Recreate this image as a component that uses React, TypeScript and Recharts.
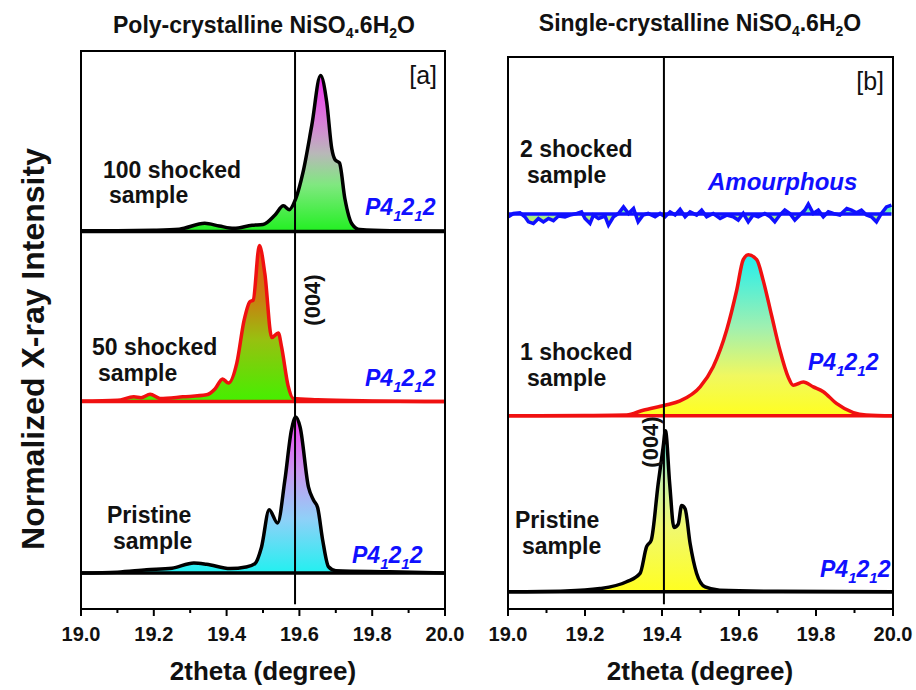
import { Area, ComposedChart, ReferenceArea, ReferenceLine, XAxis, YAxis } from "recharts";

type Pt = [number, number];

// 2theta ticks, shared by both panels
const xTicks = [19.0, 19.1, 19.2, 19.3, 19.4, 19.5, 19.6, 19.7, 19.8, 19.9, 20.0];

// panel [a] poly-crystalline, normalized intensity
const poly100: Pt[] = [
    [19.0, 0.005], [19.1, 0.005], [19.2, 0.008], [19.27, 0.015], [19.34, 0.053], [19.38, 0.035],
    [19.42, 0.02], [19.47, 0.04], [19.5, 0.045], [19.533, 0.106], [19.556, 0.165], [19.572, 0.14],
    [19.59, 0.21], [19.61, 0.38], [19.634, 0.68], [19.658, 1.0], [19.675, 0.83], [19.689, 0.53],
    [19.698, 0.46], [19.71, 0.44], [19.725, 0.21], [19.744, 0.05], [19.766, 0.012], [19.85, 0.005], [20.0, 0.003],
];
const poly50: Pt[] = [
    [19.0, 0.003], [19.1, 0.008], [19.145, 0.03], [19.165, 0.025], [19.19, 0.047], [19.217, 0.02],
    [19.28, 0.03], [19.345, 0.043], [19.368, 0.08], [19.389, 0.145], [19.405, 0.118], [19.428, 0.246],
    [19.448, 0.52], [19.464, 0.64], [19.473, 0.65], [19.49, 1.0], [19.505, 0.82], [19.524, 0.41],
    [19.542, 0.44], [19.551, 0.35], [19.569, 0.1], [19.583, 0.02], [19.65, 0.012], [19.8, 0.004], [20.0, 0.0],
];
const polyPristine: Pt[] = [
    [19.0, 0.0], [19.1, 0.005], [19.18, 0.02], [19.25, 0.03], [19.31, 0.064], [19.345, 0.056],
    [19.41, 0.028], [19.453, 0.038], [19.478, 0.06], [19.496, 0.167], [19.517, 0.405], [19.54, 0.32],
    [19.56, 0.594], [19.578, 0.915], [19.59, 1.0], [19.602, 0.935], [19.625, 0.55], [19.639, 0.466],
    [19.65, 0.42], [19.664, 0.21], [19.68, 0.04], [19.7, 0.015], [19.85, 0.008], [20.0, 0.0],
];

// panel [b] single-crystalline
const single2: Pt[] = [
    [19.001, -0.017], [19.014, 0.004], [19.031, 0.008], [19.044, -0.017], [19.053, -0.048], [19.066, -0.058],
    [19.079, -0.027], [19.092, -0.048], [19.105, -0.027], [19.118, -0.041], [19.131, -0.012], [19.148, -0.017],
    [19.161, -0.006], [19.179, 0.004], [19.191, 0.014], [19.2, -0.027], [19.213, -0.058], [19.222, -0.006],
    [19.235, -0.027], [19.252, -0.012], [19.261, -0.068], [19.274, -0.017], [19.287, 0.004], [19.3, 0.045],
    [19.313, 0.004], [19.326, 0.035], [19.338, -0.048], [19.351, -0.006], [19.364, 0.004], [19.382, -0.017],
    [19.395, 0.004], [19.408, -0.017], [19.421, 0.014], [19.434, -0.006], [19.447, 0.029], [19.46, -0.017],
    [19.473, 0.014], [19.49, -0.006], [19.503, 0.025], [19.516, -0.017], [19.533, 0.004], [19.551, -0.027],
    [19.568, -0.006], [19.585, -0.017], [19.598, -0.037], [19.611, 0.004], [19.624, -0.048], [19.637, -0.006],
    [19.65, -0.017], [19.667, 0.004], [19.681, -0.017], [19.693, -0.048], [19.706, -0.006], [19.719, 0.025],
    [19.732, 0.004], [19.745, -0.037], [19.758, -0.006], [19.771, 0.025], [19.78, 0.062], [19.793, 0.004],
    [19.806, 0.025], [19.819, -0.017], [19.832, 0.014], [19.845, 0.004], [19.862, -0.006], [19.88, 0.035],
    [19.892, 0.025], [19.905, 0.008], [19.918, 0.025], [19.931, -0.006], [19.944, -0.017], [19.957, -0.048],
    [19.97, 0.004], [19.983, 0.045], [19.996, 0.056],
];
const single1: Pt[] = [
    [19.0, 0.0], [19.2, 0.002], [19.308, 0.005], [19.351, 0.035], [19.408, 0.066], [19.447, 0.093],
    [19.499, 0.18], [19.533, 0.305], [19.568, 0.533], [19.594, 0.78], [19.611, 0.97], [19.624, 1.0],
    [19.646, 0.97], [19.663, 0.84], [19.685, 0.62], [19.706, 0.41], [19.728, 0.24], [19.741, 0.19],
    [19.767, 0.21], [19.793, 0.18], [19.819, 0.15], [19.853, 0.077], [19.897, 0.02], [19.93, 0.005], [20.0, 0.0],
];
const singlePristine: Pt[] = [
    [19.0, 0.0], [19.15, 0.005], [19.239, 0.02], [19.308, 0.062], [19.343, 0.114], [19.36, 0.28],
    [19.372, 0.32], [19.39, 0.67], [19.403, 0.9], [19.409, 1.0], [19.42, 0.67], [19.431, 0.4],
    [19.442, 0.42], [19.451, 0.536], [19.46, 0.516], [19.473, 0.3], [19.49, 0.114], [19.512, 0.03],
    [19.55, 0.01], [19.7, 0.003], [20.0, 0.0],
];

const peakA = 19.588; // (004) line, panel a
const peakB = 19.405; // (004) line, panel b

const toRange = (pts: Pt[], offset: number) =>
    pts.map(([x, y]) => ({ x, v: [offset, offset + y] }));

const BLUE = "#1010ff";
const FONT = "Liberation Sans, Arial, sans-serif";

function AxisTick({ x, y, payload }: any) {
    const major = Math.round(payload.value * 10) % 2 === 0;
    return (
        <g>
            <line x1={x} x2={x} y1={y} y2={y + (major ? 7 : 4)} stroke="#000" strokeWidth={2} />
            {major && (
                <text x={x} y={y + 32} textAnchor="middle" fontSize={20} fontWeight="bold" fill="#111" fontFamily={FONT}>
                    {payload.value.toFixed(1)}
                </text>
            )}
        </g>
    );
}

function Grad({ id, stops }: { id: string; stops: [number, string][] }) {
    return (
        <linearGradient id={id} x1="0" y1="0" x2="0" y2="1">
            {stops.map(([o, c]) => (
                <stop key={o} offset={o} stopColor={c} />
            ))}
        </linearGradient>
    );
}

function SpaceGroup() {
    return (
        <tspan>
            P4<tspan dy={6} fontSize={15}>1</tspan>
            <tspan dy={-6}>2</tspan>
            <tspan dy={6} fontSize={15}>1</tspan>
            <tspan dy={-6}>2</tspan>
        </tspan>
    );
}

function Overlay() {
    const lbl = { fontSize: 23, fontWeight: "bold" as const, fill: "#111" };
    const sg = { fontSize: 23, fontWeight: "bold" as const, fontStyle: "italic" as const, fill: BLUE };
    return (
        <svg width={916} height={690} style={{ position: "absolute", left: 0, top: 0, pointerEvents: "none" }}
            fontFamily={FONT}>
            <text x={264} y={33} textAnchor="middle" fontSize={23} fontWeight="bold" fill="#111">
                Poly-crystalline NiSO<tspan dy={5} fontSize={14}>4</tspan><tspan dy={-5}>.6H</tspan>
                <tspan dy={5} fontSize={14}>2</tspan><tspan dy={-5}>O</tspan>
            </text>
            <text x={700} y={31} textAnchor="middle" fontSize={23} fontWeight="bold" fill="#111">
                Single-crystalline NiSO<tspan dy={5} fontSize={14}>4</tspan><tspan dy={-5}>.6H</tspan>
                <tspan dy={5} fontSize={14}>2</tspan><tspan dy={-5}>O</tspan>
            </text>
            <text transform="translate(44,349) rotate(-90)" textAnchor="middle" fontSize={32} fontWeight="bold" fill="#111">
                Normalized X-ray Intensity
            </text>
            <text x={263} y={680} textAnchor="middle" fontSize={26} fontWeight="bold" fill="#111">2theta (degree)</text>
            <text x={700} y={680} textAnchor="middle" fontSize={26} fontWeight="bold" fill="#111">2theta (degree)</text>

            <text x={437} y={84} textAnchor="end" fontSize={25} fill="#111">[a]</text>
            <text x={884} y={90} textAnchor="end" fontSize={25} fill="#111">[b]</text>

            <text x={103} y={178} {...lbl}>100 shocked</text>
            <text x={109} y={203} {...lbl}>sample</text>
            <text x={365} y={215} {...sg}><SpaceGroup /></text>

            <text x={92} y={355} {...lbl}>50 shocked</text>
            <text x={98} y={381} {...lbl}>sample</text>
            <text x={365} y={386} {...sg}><SpaceGroup /></text>
            <text transform="translate(320,300) rotate(-90)" textAnchor="middle" {...lbl} fontSize={22}>(004)</text>

            <text x={107} y={523} {...lbl}>Pristine</text>
            <text x={113} y={549} {...lbl}>sample</text>
            <text x={352} y={563} {...sg}><SpaceGroup /></text>

            <text x={520} y={157} {...lbl}>2 shocked</text>
            <text x={527} y={183} {...lbl}>sample</text>
            <text x={708} y={190} {...sg} fontSize={24}>Amourphous</text>

            <text x={520} y={360} {...lbl}>1 shocked</text>
            <text x={527} y={386} {...lbl}>sample</text>
            <text x={808} y={370} {...sg}><SpaceGroup /></text>

            <text x={515} y={528} {...lbl}>Pristine</text>
            <text x={522} y={554} {...lbl}>sample</text>
            <text x={820} y={577} {...sg}><SpaceGroup /></text>
            <text transform="translate(658,442) rotate(-90)" textAnchor="middle" {...lbl} fontSize={22}>(004)</text>
        </svg>
    );
}

export default function App() {
    const topA = 3.577;
    const topB = 3.429;
    return (
        <div style={{ position: "absolute", left: 0, top: 0, width: 916, height: 690, background: "#fff", overflow: "hidden" }}>
            <div style={{ position: "absolute", left: 0, top: 0 }}>
                <ComposedChart width={480} height={690} margin={{ top: 51, right: 35, bottom: 51, left: 81 }}>
                    <defs>
                        <Grad id="gA100" stops={[[0, "#f030f0"], [0.3, "#d880d8"], [0.5, "#b8b8b8"], [0.7, "#80e880"], [1, "#22f022"]]} />
                        <Grad id="gA50" stops={[[0, "#e05a10"], [0.35, "#c88010"], [0.6, "#98c010"], [1, "#44f000"]]} />
                        <Grad id="gAP" stops={[[0, "#f040f0"], [0.35, "#c898f0"], [0.65, "#90d0f8"], [1, "#22f0f0"]]} />
                    </defs>
                    <XAxis dataKey="x" type="number" domain={[19, 20]} ticks={xTicks} interval={0} height={30}
                        tickSize={0} tickMargin={0} tickLine={false} axisLine={{ stroke: "#000", strokeWidth: 2 }}
                        tick={<AxisTick />} allowDataOverflow />
                    <YAxis hide type="number" domain={[0, topA]} allowDataOverflow />
                    <Area data={toRange(polyPristine, 0.231)} dataKey="v" type="monotone" stroke="#000" strokeWidth={3.5}
                        fill="url(#gAP)" fillOpacity={1} isAnimationActive={false} dot={false} activeDot={false} />
                    <Area data={toRange(poly50, 1.33)} dataKey="v" type="monotone" stroke="#f01010" strokeWidth={3.5}
                        fill="url(#gA50)" fillOpacity={1} isAnimationActive={false} dot={false} activeDot={false} />
                    <Area data={toRange(poly100, 2.42)} dataKey="v" type="monotone" stroke="#000" strokeWidth={3.5}
                        fill="url(#gA100)" fillOpacity={1} isAnimationActive={false} dot={false} activeDot={false} />
                    <ReferenceLine segment={[{ x: peakA, y: 0.03 }, { x: peakA, y: topA }]} stroke="#000" strokeWidth={2} />
                    <ReferenceArea x1={19} x2={20} y1={0} y2={topA} fill="none" stroke="#000" strokeWidth={2} />
                </ComposedChart>
            </div>
            <div style={{ position: "absolute", left: 460, top: 0 }}>
                <ComposedChart width={456} height={690} margin={{ top: 57, right: 23, bottom: 51, left: 48 }}>
                    <defs>
                        <Grad id="gB2" stops={[[0, "#30f0f0"], [1, "#f0f040"]]} />
                        <Grad id="gB1" stops={[[0, "#22eeee"], [0.45, "#a0f0b0"], [0.75, "#f0f860"], [1, "#ffff20"]]} />
                        <Grad id="gBP" stops={[[0, "#30d8d8"], [0.3, "#c8f0a8"], [0.6, "#f0f870"], [1, "#ffff20"]]} />
                    </defs>
                    <XAxis dataKey="x" type="number" domain={[19, 20]} ticks={xTicks} interval={0} height={30}
                        tickSize={0} tickMargin={0} tickLine={false} axisLine={{ stroke: "#000", strokeWidth: 2 }}
                        tick={<AxisTick />} allowDataOverflow />
                    <YAxis hide type="number" domain={[0, topB]} allowDataOverflow />
                    <Area data={toRange(singlePristine, 0.107)} dataKey="v" type="monotone" stroke="#000" strokeWidth={3.5}
                        fill="url(#gBP)" fillOpacity={1} isAnimationActive={false} dot={false} activeDot={false} />
                    <Area data={toRange(single1, 1.2)} dataKey="v" type="monotone" stroke="#f01010" strokeWidth={3.5}
                        fill="url(#gB1)" fillOpacity={1} isAnimationActive={false} dot={false} activeDot={false} />
                    <Area data={toRange(single2, 2.453)} dataKey="v" type="linear" stroke={BLUE} strokeWidth={3.5}
                        fill="url(#gB2)" fillOpacity={1} isAnimationActive={false} dot={false} activeDot={false} />
                    <ReferenceLine segment={[{ x: peakB, y: 0.03 }, { x: peakB, y: topB }]} stroke="#000" strokeWidth={2} />
                    <ReferenceArea x1={19} x2={20} y1={0} y2={topB} fill="none" stroke="#000" strokeWidth={2} />
                </ComposedChart>
            </div>
            <Overlay />
        </div>
    );
}
